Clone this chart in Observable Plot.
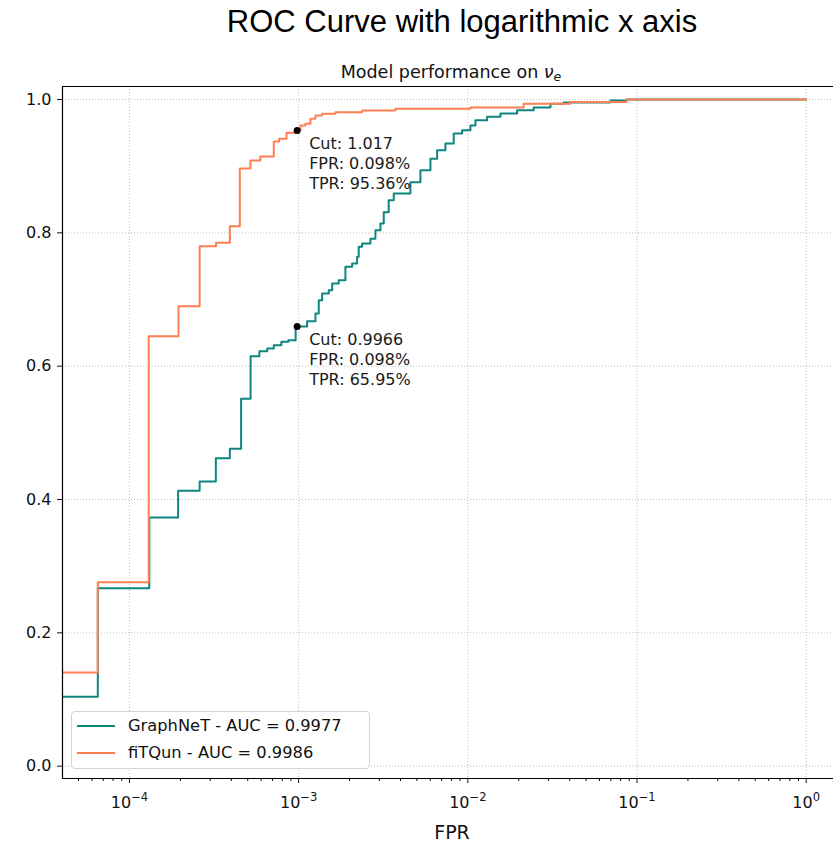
<!DOCTYPE html>
<html>
<head>
<meta charset="utf-8">
<script src="https://cdn.jsdelivr.net/npm/d3@7"></script>
<script src="https://cdn.jsdelivr.net/npm/@observablehq/plot@0.6"></script>
<style>
  html, body { margin: 0; padding: 0; background: white; overflow: hidden; }
  #wrap { position: relative; width: 833px; height: 845px; font-family: "DejaVu Sans", sans-serif; }
  #title { position: absolute; left: 162px; width: 600px; top: 6px; text-align: center;
           font-family: "Liberation Sans", Arial, sans-serif; font-size: 31px; line-height: 31px; color: #000; }
  #subtitle { position: absolute; left: 251px; width: 400px; top: 62px; text-align: center;
              font-size: 17.5px; line-height: 20px; color: #111; }
  #subtitle sub { font-size: 12.5px; vertical-align: -3px; font-style: italic; }
  #legend { position: absolute; left: 71px; top: 711px; width: 297px; height: 56px;
            border: 1px solid #d3d3d3; border-radius: 4px; background: rgba(255,255,255,0.85); }
  .lrow { position: absolute; left: 0; height: 20px; line-height: 20px; font-size: 16.3px; color: #111; white-space: nowrap; }
  .lrow .swatch { position: absolute; left: 5px; top: 9px; width: 38px; height: 2px; }
  .lrow .ltext { position: absolute; left: 56px; top: 0; }
</style>
</head>
<body>
<div id="wrap">
  <div id="title"></div>
  <div id="subtitle"></div>
  <div id="chart"></div>
  <div id="legend"></div>
</div>
<script>
// ---- text ----
const chartTitle = "ROC Curve with logarithmic x axis";
const subtitleText = "Model performance on ";
const xLabel = "FPR";

// ---- series ----
const seriesNames = ["GraphNeT", "fiTQun"];
const seriesAUC = ["0.9977", "0.9986"];
const seriesColors = ["#0f8580", "#ff7f50"];

// first point (1e-5) stands for FPR = 0, which falls off the log axis (clipped)
const graphnetFPR = [1e-5, 6.5e-5, 1.31e-4, 1.94e-4, 2.60e-4, 3.24e-4, 3.92e-4, 4.57e-4, 5.2e-4, 5.86e-4,
  6.52e-4, 7.13e-4, 7.9e-4, 8.7e-4, 9.6e-4, 1.122e-3, 1.257e-3, 1.315e-3, 1.377e-3, 1.506e-3,
  1.578e-3, 1.726e-3, 1.890e-3, 2.071e-3, 2.216e-3, 2.265e-3, 2.372e-3, 2.656e-3, 2.843e-3, 3.044e-3,
  3.184e-3, 3.407e-3, 3.649e-3, 4.579e-3, 5.246e-3, 6.012e-3, 6.585e-3, 7.372e-3, 8.254e-3, 9.254e-3,
  1.036e-2, 1.109e-2, 1.300e-2, 1.559e-2, 1.956e-2, 2.452e-2, 3.078e-2, 3.687e-2, 6.965e-2, 8.657e-2, 1.0];
const graphnetTPR = [0.104, 0.267, 0.373, 0.413, 0.427, 0.462, 0.476, 0.551, 0.615, 0.6225,
  0.6265, 0.6315, 0.6365, 0.639, 0.6595, 0.6675, 0.679, 0.699, 0.709, 0.714,
  0.724, 0.729, 0.749, 0.754, 0.764, 0.779, 0.784, 0.791, 0.804, 0.814,
  0.831, 0.849, 0.859, 0.876, 0.894, 0.911, 0.924, 0.934, 0.949, 0.954,
  0.961, 0.969, 0.974, 0.979, 0.984, 0.988, 0.9935, 0.9955, 0.9985, 1.0, 1.0];

const fitqunFPR = [1e-5, 6.5e-5, 1.30e-4, 1.95e-4, 2.60e-4, 3.25e-4, 3.92e-4, 4.49e-4, 5.19e-4, 5.94e-4,
  7.13e-4, 7.67e-4, 8.48e-4, 9.8e-4, 1.025e-3, 1.097e-3, 1.174e-3, 1.257e-3, 1.377e-3, 1.650e-3,
  2.372e-3, 3.734e-3, 1.036e-2, 2.140e-2, 4.040e-2, 8.657e-2, 1.0];
const fitqunTPR = [0.1405, 0.276, 0.645, 0.690, 0.780, 0.785, 0.810, 0.8966, 0.9086, 0.9146,
  0.937, 0.941, 0.950, 0.9536, 0.961, 0.9636, 0.971, 0.976, 0.9785, 0.981,
  0.9835, 0.986, 0.988, 0.9935, 0.9963, 1.0, 1.0];

// ---- annotated cut points ----
const cutValues = ["1.017", "0.9966"];
const cutFPRpct = ["0.098", "0.098"];
const cutTPRpct = ["95.36", "65.95"];

// ---- axes ----
const xDomain = [4.02e-5, 1.45];
const yDomain = [-0.0185, 1.0195];
const xMajorTicks = [1e-4, 1e-3, 1e-2, 1e-1, 1];
const yTicks = [0, 0.2, 0.4, 0.6, 0.8, 1.0];

// minor log ticks (2..9 x 10^k) inside the domain
const xMinorTicks = [];
for (let k = -5; k <= 0; k++) for (let m = 2; m <= 9; m++) {
  const v = m * Math.pow(10, k);
  if (v > xDomain[0] && v < xDomain[1]) xMinorTicks.push(v);
}

// "10|<exp>" marker, later turned into a real superscript
const powFormat = d => "10|" + String(Math.round(Math.log10(d))).replace("-", "\u2212");

const graphnet = graphnetFPR.map((f, i) => ({fpr: f, tpr: graphnetTPR[i]}));
const fitqun = fitqunFPR.map((f, i) => ({fpr: f, tpr: fitqunTPR[i]}));
const cuts = cutValues.map((c, i) => ({
  fpr: +cutFPRpct[i] / 100, tpr: +cutTPRpct[i] / 100,
  label: `Cut: ${c}\nFPR: ${cutFPRpct[i]}%\nTPR: ${cutTPRpct[i]}%`
}));

const grid = {stroke: "#b0b0b0", strokeOpacity: 1, strokeWidth: 0.8, strokeDasharray: "1,2"};

const chart = Plot.plot({
  width: 833,
  height: 845,
  marginTop: 86,
  marginBottom: 67,
  marginLeft: 62,
  marginRight: 0,
  style: {fontFamily: "DejaVu Sans, sans-serif", fontSize: "16px", color: "#111", background: "white"},
  x: {type: "log", domain: xDomain},
  y: {domain: yDomain},
  marks: [
    Plot.gridX({ticks: xMajorTicks, ...grid}),
    Plot.gridY({ticks: yTicks, ...grid}),
    Plot.line(graphnet, {x: "fpr", y: "tpr", curve: "step-after", stroke: seriesColors[0], strokeWidth: 2, clip: true}),
    Plot.line(fitqun, {x: "fpr", y: "tpr", curve: "step-after", stroke: seriesColors[1], strokeWidth: 2, clip: true}),
    Plot.dot(cuts, {x: "fpr", y: "tpr", r: 3.5, fill: "black", stroke: null}),
    Plot.text(cuts, {x: "fpr", y: "tpr", text: "label", textAnchor: "start", lineAnchor: "top",
      dx: 12, dy: 4, fontSize: 16, lineHeight: 1.25, fill: "#1a1a1a"}),
    Plot.axisX({ticks: xMajorTicks, tickSize: 5, tickPadding: 13, tickFormat: powFormat, label: null, fontSize: 16}),
    Plot.axisX({ticks: xMinorTicks, tickSize: 3, tickFormat: () => "", label: null}),
    Plot.axisY({ticks: yTicks, tickSize: 5, tickPadding: 6, tickFormat: d3.format(".1f"), label: null, fontSize: 16}),
    Plot.ruleX([xDomain[0]], {stroke: "black", strokeWidth: 1.2}),
    Plot.ruleY([yDomain[0], yDomain[1]], {stroke: "black", strokeWidth: 1.2}),
    Plot.text([xLabel], {frameAnchor: "bottom", lineAnchor: "middle", dx: 4, dy: 54, fontSize: 19, fill: "#111"})
  ]
});
document.getElementById("chart").appendChild(chart);

// turn "10|-4" labels into 10 with a superscript exponent (mathtext style)
chart.querySelectorAll("text").forEach(t => {
  const s = t.textContent;
  if (s.indexOf("|") < 0) return;
  const [base, exp] = s.split("|");
  const ts = t.querySelector("tspan") || t;
  while (t.firstChild) t.removeChild(t.firstChild);
  t.appendChild(document.createTextNode(base));
  const sp = document.createElementNS("http://www.w3.org/2000/svg", "tspan");
  sp.setAttribute("dy", "-7");
  sp.setAttribute("font-size", "11.5");
  sp.textContent = exp;
  t.appendChild(sp);
});

document.getElementById("title").textContent = chartTitle;
const sub = document.getElementById("subtitle");
sub.appendChild(document.createTextNode(subtitleText));
const nu = document.createElement("i"); nu.textContent = "\u03BD"; sub.appendChild(nu);
const se = document.createElement("sub"); se.textContent = "e"; sub.appendChild(se);

const legend = document.getElementById("legend");
seriesNames.forEach((name, i) => {
  const row = document.createElement("div");
  row.className = "lrow";
  row.style.top = (4 + i * 26.5) + "px";
  row.style.width = "290px";
  const sw = document.createElement("div");
  sw.className = "swatch";
  sw.style.background = seriesColors[i];
  const tx = document.createElement("div");
  tx.className = "ltext";
  tx.textContent = `${name} - AUC = ${seriesAUC[i]}`;
  row.appendChild(sw); row.appendChild(tx);
  legend.appendChild(row);
});
</script>
</body>
</html>
